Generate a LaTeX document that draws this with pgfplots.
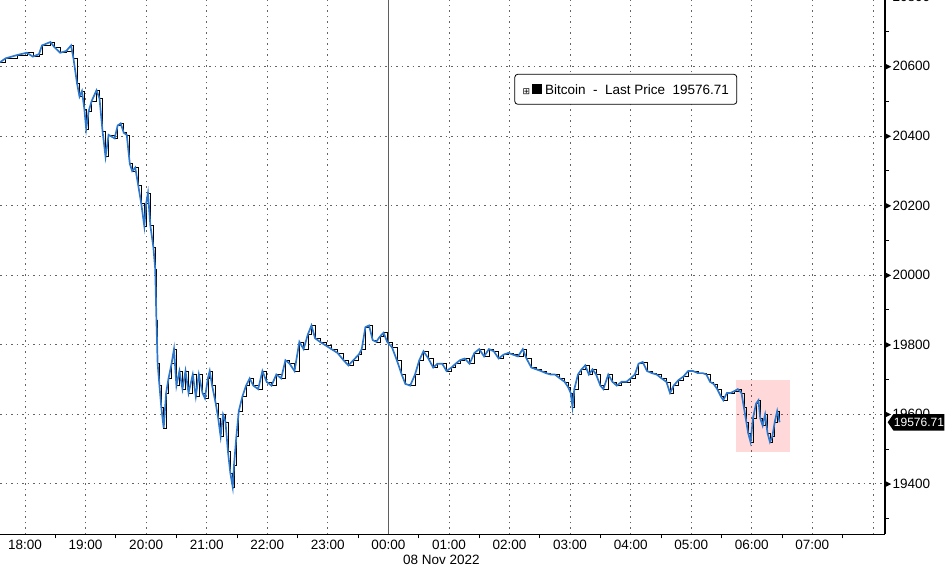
\documentclass[border=0pt]{standalone}
\usepackage{pgfplots}
\pgfplotsset{compat=1.18}
\usepackage{pgfplotstable}
\usepackage{fontspec}
\setmainfont{Liberation Sans}
\newfontfamily\dejavu{DejaVu Sans}
\usetikzlibrary{shapes.symbols}
\definecolor{bblue}{RGB}{45,120,205}
\definecolor{gridc}{RGB}{100,100,100}
\definecolor{midline}{RGB}{95,95,95}

\pgfplotstableread{
h v
-0.41 20612
-0.32 20623
-0.12 20633
0.03 20639
0.13 20628
0.23 20635
0.28 20660
0.42 20670
0.48 20656
0.58 20639
0.68 20644
0.76 20660
0.80 20623
0.86 20550
0.90 20513
0.94 20529
0.98 20477
1.01 20420
1.05 20470
1.10 20500
1.18 20531
1.23 20508
1.28 20414
1.33 20340
1.38 20403
1.48 20393
1.53 20430
1.58 20436
1.63 20409
1.68 20403
1.73 20320
1.77 20299
1.82 20309
1.87 20257
1.92 20205
1.97 20140
2.00 20205
2.03 20236
2.07 20142
2.12 20079
2.15 20017
2.17 19870
2.19 19745
2.22 19682
2.25 19620
2.29 19560
2.33 19661
2.37 19703
2.42 19745
2.46 19787
2.50 19682
2.55 19724
2.60 19672
2.65 19724
2.70 19661
2.77 19714
2.82 19651
2.87 19714
2.93 19661
2.97 19646
3.02 19703
3.05 19724
3.09 19682
3.15 19630
3.19 19588
3.23 19536
3.27 19599
3.31 19578
3.35 19494
3.39 19431
3.43 19390
3.45 19452
3.49 19536
3.53 19609
3.59 19651
3.65 19682
3.71 19703
3.77 19682
3.85 19672
3.92 19724
3.99 19693
4.07 19682
4.15 19714
4.23 19703
4.30 19755
4.37 19745
4.45 19724
4.53 19808
4.60 19787
4.67 19829
4.73 19855
4.79 19818
4.87 19808
4.97 19797
5.06 19787
5.16 19776
5.26 19755
5.34 19740
5.42 19755
5.51 19771
5.56 19787
5.62 19850
5.68 19855
5.74 19813
5.80 19808
5.86 19823
5.92 19834
5.98 19808
6.06 19792
6.14 19755
6.22 19714
6.28 19687
6.36 19682
6.44 19714
6.51 19755
6.58 19781
6.66 19760
6.74 19734
6.81 19745
6.89 19745
6.96 19724
7.04 19734
7.11 19745
7.18 19755
7.26 19760
7.34 19745
7.42 19776
7.50 19787
7.58 19766
7.66 19787
7.74 19781
7.82 19760
7.90 19771
7.98 19776
8.06 19771
8.14 19766
8.22 19787
8.28 19760
8.36 19734
8.44 19729
8.52 19724
8.60 19718
8.68 19714
8.75 19714
8.83 19703
8.91 19693
8.97 19677
9.01 19661
9.04 19620
9.07 19672
9.13 19714
9.19 19729
9.25 19740
9.31 19714
9.37 19729
9.43 19714
9.50 19682
9.55 19672
9.63 19714
9.70 19693
9.77 19682
9.85 19693
9.93 19693
10.00 19703
10.07 19714
10.13 19745
10.20 19750
10.27 19724
10.35 19718
10.43 19714
10.51 19703
10.59 19693
10.65 19661
10.71 19682
10.79 19698
10.87 19708
10.95 19724
11.03 19724
11.11 19718
11.19 19718
11.25 19714
11.31 19693
11.37 19687
11.43 19672
11.49 19651
11.53 19640
11.59 19661
11.65 19661
11.71 19666
11.77 19672
11.83 19661
11.87 19620
11.91 19578
11.94 19546
11.98 19520
12.02 19588
12.07 19630
12.11 19640
12.14 19588
12.18 19567
12.22 19599
12.26 19546
12.30 19520
12.34 19536
12.38 19578
12.42 19609
12.46 19576.71
}\btc

\begin{document}
\begin{tikzpicture}
\begin{axis}[
  scale only axis, width=885pt, height=541.2pt,
  xmin=-0.413, xmax=14.2, ymin=19254, ymax=20810,
  axis x line=bottom, axis y line=right,
  axis line style={-, line width=1.1pt, black},
  xtick={0,...,14},
  xticklabels={18:00,19:00,20:00,21:00,22:00,23:00,00:00,01:00,02:00,03:00,04:00,05:00,06:00,07:00,{}},
  minor xtick={-0.5,0.5,...,13.5},
  ytick={19400,19600,...,20800},
  minor ytick={19300,19500,...,20700},
  scaled y ticks=false,
  major tick length=0pt, minor tick length=4pt, tick align=outside,
  tick style={black, line width=0.8pt},
  grid=major,
  major grid style={gridc, dash pattern=on 1.5pt off 4pt, line width=0.7pt},
  ticklabel style={font=\fontsize{13.5}{15}\selectfont},
  xticklabel style={yshift=-2.5pt},
  /pgf/number format/assume math mode=true,
  yticklabel={\tikz[baseline=-0.6ex]\fill (0,-3pt)--(6pt,0)--(0,3pt)--cycle;\hspace{1.5pt}\pgfmathprintnumber[1000 sep={},fixed,precision=0]{\tick}},
  yticklabel style={inner xsep=0pt},
  clip=false,
]
\fill[red, opacity=0.15] (axis cs:11.74,19491) rectangle (axis cs:12.63,19698);
\draw[midline, line width=0.8pt] (axis cs:6,19254) -- (axis cs:6,20810);
\addplot[black, line width=0.6pt, const plot] table[x=h,y=v]{\btc};
\addplot[bblue, line width=1.7pt] table[x=h,y=v]{\btc};
\node[draw=black, rounded corners=3pt, fill=white, line width=0.8pt,
      minimum width=222pt, minimum height=30pt, inner sep=0pt,
      font=\fontsize{13.5}{15}\selectfont] at (axis cs:9.92,20534)
  {{\dejavu\fontsize{9}{10}\selectfont ⊞}\hspace{2pt}\rule{10pt}{10pt}\hspace{3pt}Bitcoin\ \ -\ \ Last Price\ \ 19576.71};
\node[signal, signal to=west, signal pointer angle=110, fill=black, text=white,
      inner xsep=0.5pt, inner ysep=4pt, anchor=west,
      font=\fontsize{12}{14}\selectfont] at (axis cs:14.24,19576.71) {19576.71};
\node[anchor=north, inner sep=0pt, font=\fontsize{13.5}{15}\selectfont]
  at (axis cs:6.876,19254) [yshift=-20pt] {08 Nov 2022};
\end{axis}
\pgfresetboundingbox
\path[use as bounding box] (0,-35.5pt) rectangle (946pt,534.5pt);
\end{tikzpicture}
\end{document}
